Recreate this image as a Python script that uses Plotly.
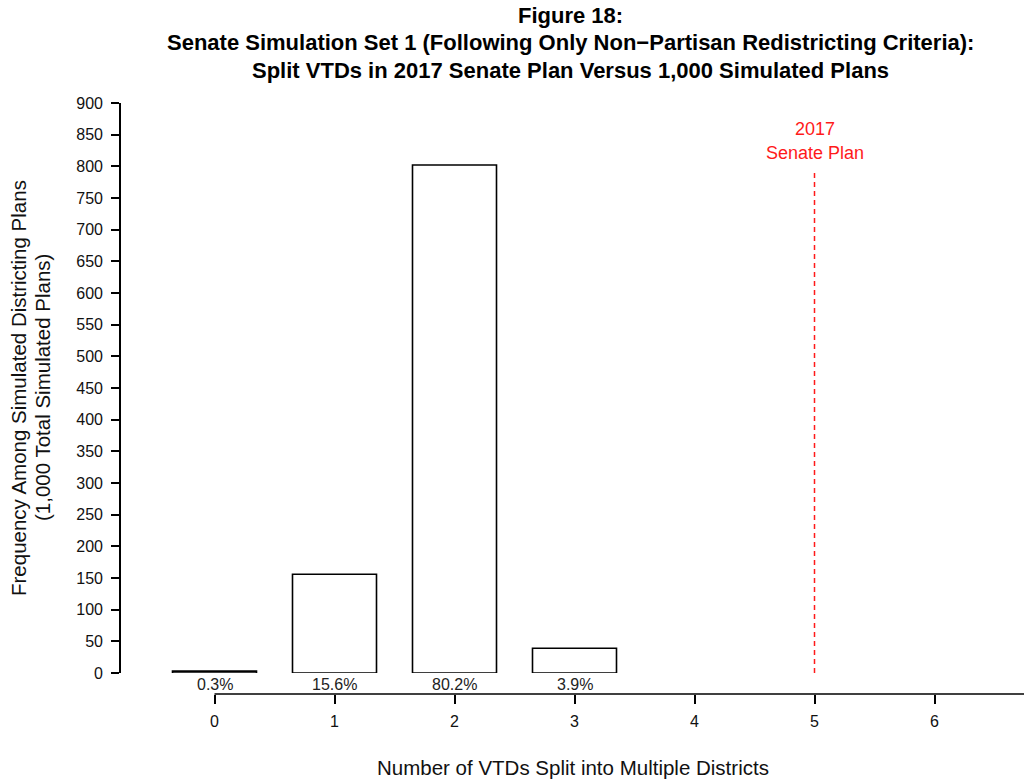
import plotly.graph_objects as go

# ---- data ----
splits = [0, 1, 2, 3]
counts = [3, 156, 802, 39]
pct_labels = ["0.3%", "15.6%", "80.2%", "3.9%"]
x_ticks = [0, 1, 2, 3, 4, 5, 6]
enacted_value = 5
enacted_line_top = 795
enacted_label = ["2017", "Senate Plan"]
title_lines = [
    "Figure 18:",
    "Senate Simulation Set 1 (Following Only Non\u2212Partisan Redistricting Criteria):",
    "Split VTDs in 2017 Senate Plan Versus 1,000 Simulated Plans",
]
y_title_lines = ["Frequency Among Simulated Districting Plans", "(1,000 Total Simulated Plans)"]
x_title = "Number of VTDs Split into Multiple Districts"

FONT = "Liberation Sans, Arial, Helvetica, sans-serif"
W, H = 1024, 780

def px_x(p):
    return p / W

def px_y(p):
    return (H - p) / H

fig = go.Figure()
fig.add_trace(go.Bar(
    x=splits, y=counts, width=0.7,
    marker=dict(color="white", line=dict(color="black", width=1.6)),
    hoverinfo="x+y", showlegend=False,
))

annotations = []
# percent labels under bars
for xv, lab in zip(splits, pct_labels):
    annotations.append(dict(x=xv, y=0, xref="x", yref="y", text=lab, showarrow=False,
                            yanchor="top", yshift=-1,
                            font=dict(family=FONT, size=16, color="#222222")))
# enacted plan label
for i, line in enumerate(enacted_label):
    annotations.append(dict(x=enacted_value, y=px_y(129 + 24 * i), xref="x", yref="paper",
                            text=line, showarrow=False, yanchor="middle",
                            font=dict(family=FONT, size=18, color="#ff1a1a")))
# title lines
for i, line in enumerate(title_lines):
    annotations.append(dict(x=px_x(570), y=px_y(15 + 27.5 * i), xref="paper", yref="paper",
                            text="<b>" + line + "</b>", showarrow=False,
                            xanchor="center", yanchor="middle",
                            font=dict(family=FONT, size=22, color="black")))
# y title lines
for i, line in enumerate(y_title_lines):
    annotations.append(dict(x=px_x(18 + 24 * i), y=0.5, xref="paper", yref="y domain",
                            text=line, showarrow=False, textangle=-90,
                            xanchor="center", yanchor="middle",
                            font=dict(family=FONT, size=20.5, color="#111111")))
# x title
annotations.append(dict(x=0.5, y=px_y(767), xref="x domain", yref="paper",
                        text=x_title, showarrow=False, yanchor="middle",
                        font=dict(family=FONT, size=20.5, color="#111111")))

shapes = [
    # x axis line (R style: starts at the first tick)
    dict(type="line", xref="x", yref="paper", x0=x_ticks[0], x1=x_ticks[-1] + 1,
         y0=px_y(694), y1=px_y(694), line=dict(color="black", width=1.6)),
    # enacted plan marker
    dict(type="line", xref="x", yref="y", x0=enacted_value, x1=enacted_value,
         y0=0, y1=enacted_line_top, line=dict(color="#ff1a1a", width=1.5, dash="5px,4px")),
]

x0_px, unit_px = 214.5, 120.0
fig.update_layout(
    width=W, height=H,
    margin=dict(l=0, r=0, t=0, b=0, pad=0, autoexpand=False),
    paper_bgcolor="white", plot_bgcolor="white",
    font=dict(family=FONT, color="black"),
    bargap=0.3,
    xaxis=dict(
        domain=[px_x(121), 1.0],
        range=[(121 - x0_px) / unit_px, (W - x0_px) / unit_px],
        tickvals=x_ticks, ticktext=[str(v) for v in x_ticks],
        ticks="outside", ticklen=9, tickwidth=1.5, tickcolor="black",
        showline=False, showgrid=False, zeroline=False,
        anchor="free", position=px_y(694), automargin=False,
        ticklabelstandoff=4,
        tickfont=dict(family=FONT, size=16, color="#111111"),
    ),
    yaxis=dict(
        domain=[px_y(673), px_y(103)],
        range=[0, 900], tick0=0, dtick=50,
        ticks="outside", ticklen=8, tickwidth=1.5, tickcolor="black",
        showline=True, linewidth=1.6, linecolor="black",
        showgrid=False, zeroline=False, automargin=False,
        ticklabelstandoff=5,
        tickfont=dict(family=FONT, size=16, color="#111111"),
    ),
    annotations=annotations,
    shapes=shapes,
)

fig.write_html(
    "out.html",
    config={"displayModeBar": False},
    post_script="document.body.style.margin='0';document.body.style.overflow='hidden';",
)
